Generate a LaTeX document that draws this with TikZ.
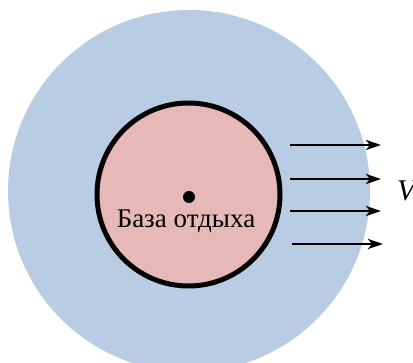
\documentclass[tikz,border=0pt]{standalone}
\usepackage{fontspec}
\setmainfont{Liberation Serif}
\usetikzlibrary{arrows.meta}
\definecolor{zoneblue}{HTML}{B8CCE4}
\definecolor{basered}{HTML}{E6B8B7}
\begin{document}
\begin{tikzpicture}[x=1pt,y=-1pt,
  flow/.style={line width=2.7pt,-{Stealth[length=15pt,width=10pt,inset=4pt]}},
  lbl/.style={inner sep=0pt,font=\fontsize{27}{29}\selectfont}]
\useasboundingbox (0,0) rectangle (413,363);
\begin{scope}
\clip (0,0) rectangle (413,363);
\fill[zoneblue] (189,191) circle[radius=181];
\end{scope}
\node[circle,draw=black,line width=5pt,fill=basered,minimum size=183pt,inner sep=0pt] (base) at (188.5,194.5) {};
\fill[black] (189,197) circle[radius=6] coordinate (dot);
\node[lbl,anchor=base] (name) at (186,228) {База отдыха};
\coordinate (a1s) at (290,145); \coordinate (a1e) at (381,145);
\coordinate (a2s) at (290,179); \coordinate (a2e) at (381,179);
\coordinate (a3s) at (290,211); \coordinate (a3e) at (381,211);
\coordinate (a4s) at (292,244); \coordinate (a4e) at (383,244);
\draw[flow] (a1s) -- (a1e);
\draw[flow] (a2s) -- (a2e);
\draw[flow] (a3s) -- (a3e);
\draw[flow] (a4s) -- (a4e);
\node[inner sep=0pt,anchor=west,font=\fontsize{30}{32}\selectfont\itshape] (v) at (397,191) {V};
\end{tikzpicture}
\end{document}
